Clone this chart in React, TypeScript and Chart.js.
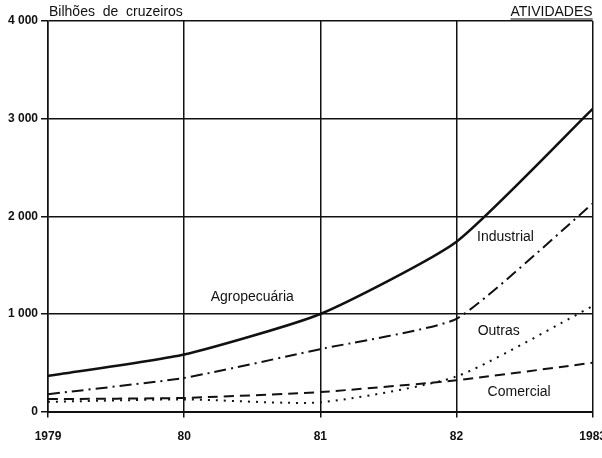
import React, { useEffect, useRef } from "react";
import { Chart, registerables } from "chart.js";

Chart.register(...registerables);

const years = [1979, 1980, 1981, 1982, 1983];
const tickLabels = ["1979", "80", "81", "82", "1983"];
const agropecuaria = [365, 585, 1000, 1740, 3100];
const industrial = [178, 345, 640, 950, 2130];
const comercial = [128, 140, 200, 320, 500];
const outras = [100, 125, 95, 360, 1080];
const yTicks = [0, 1000, 2000, 3000, 4000];

const seriesLabels = [
  { text: "Agropecuária", x: 1980.5, y: 1170 },
  { text: "Industrial", x: 1982.36, y: 1790 },
  { text: "Outras", x: 1982.31, y: 820 },
  { text: "Comercial", x: 1982.46, y: 195 },
];

const FONT = "'Liberation Sans', Arial, sans-serif";
const INK = "#111";

function fmt(v: number): string {
  if (v === 0) return "0";
  const s = String(v);
  return s.slice(0, s.length - 3) + " " + s.slice(s.length - 3);
}

const textPlugin = {
  id: "textPlugin",
  afterDraw(chart: any) {
    const { ctx, chartArea, scales } = chart;
    ctx.save();
    ctx.fillStyle = INK;
    ctx.font = `14px ${FONT}`;
    ctx.textBaseline = "middle";
    ctx.textAlign = "left";
    ctx.fillText("Bilhões  de  cruzeiros", chartArea.left + 1, 12);
    ctx.textAlign = "right";
    ctx.fillText("ATIVIDADES", chartArea.right, 12);
    const w = ctx.measureText("ATIVIDADES").width;
    ctx.strokeStyle = INK;
    ctx.lineWidth = 1.2;
    ctx.beginPath();
    ctx.moveTo(chartArea.right - w, 19);
    ctx.lineTo(chartArea.right, 19);
    ctx.stroke();
    ctx.textAlign = "center";
    for (const l of seriesLabels) {
      ctx.fillText(l.text, scales.x.getPixelForValue(l.x), scales.y.getPixelForValue(l.y));
    }
    ctx.restore();
  },
};

export default function App() {
  const ref = useRef<HTMLCanvasElement>(null);
  useEffect(() => {
    document.body.style.margin = "0";
    const mk = (data: number[]) => years.map((x, i) => ({ x, y: data[i] }));
    const chart = new Chart(ref.current!, {
      type: "line",
      data: {
        datasets: [
          { label: "Agropecuária", data: mk(agropecuaria), borderColor: INK, borderWidth: 2.6, tension: 0.18 },
          { label: "Industrial", data: mk(industrial), borderColor: INK, borderWidth: 2, borderDash: [12, 5, 2, 5], tension: 0.15 },
          { label: "Comercial", data: mk(comercial), borderColor: INK, borderWidth: 2, borderDash: [10, 6], tension: 0.15 },
          { label: "Outras", data: mk(outras), borderColor: INK, borderWidth: 2, borderDash: [2, 6], tension: 0.2 },
        ],
      },
      options: {
        animation: false,
        responsive: false,
        devicePixelRatio: 1,
        layout: { padding: { top: 21, right: 8, left: 5, bottom: 2 } },
        elements: { point: { radius: 0 } },
        plugins: { legend: { display: false }, tooltip: { enabled: false }, title: { display: false } },
        scales: {
          x: {
            type: "linear",
            min: 1979,
            max: 1983,
            afterBuildTicks: (s: any) => { s.ticks = years.map((v) => ({ value: v })); },
            ticks: {
              callback: (v: any) => tickLabels[years.indexOf(Number(v))] ?? "",
              color: INK,
              font: { family: FONT, size: 12, weight: "bold" },
              padding: 12,
              maxRotation: 0,
            },
            grid: { color: INK, lineWidth: 1.5, tickLength: 6, tickColor: INK },
            border: { color: INK, width: 2 },
          },
          y: {
            min: 0,
            max: 4000,
            afterBuildTicks: (s: any) => { s.ticks = yTicks.map((v) => ({ value: v })); },
            ticks: {
              callback: (v: any) => fmt(Number(v)),
              color: INK,
              font: { family: FONT, size: 12, weight: "bold" },
              padding: 3,
            },
            grid: { color: INK, lineWidth: 1.5, tickLength: 7, tickColor: INK },
            border: { color: INK, width: 1.5 },
          },
        },
      },
      plugins: [textPlugin],
    });
    return () => chart.destroy();
  }, []);
  return (
    <div style={{ width: 602, height: 458, overflow: "hidden", background: "#fff" }}>
      <canvas ref={ref} width={618} height={458} style={{ display: "block" }} />
    </div>
  );
}
